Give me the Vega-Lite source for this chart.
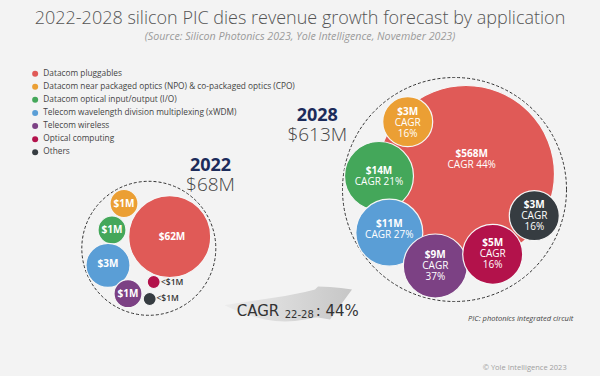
{
  "$schema": "https://vega.github.io/schema/vega-lite/v6.json",
  "width": 600,
  "height": 376,
  "padding": 0,
  "autosize": {"type": "none"},
  "background": "#f3f3f3",
  "config": {"view": {"stroke": null}, "font": "Open Sans"},
  "title": {
    "text": "2022-2028 silicon PIC dies revenue growth forecast by application",
    "subtitle": "(Source: Silicon Photonics 2023, Yole Intelligence, November 2023)",
    "anchor": "middle",
    "offset": -42,
    "font": "Open Sans",
    "fontSize": 18,
    "fontWeight": 300,
    "color": "#555555",
    "subtitleFont": "Open Sans",
    "subtitleFontSize": 10.7,
    "subtitleFontStyle": "italic",
    "subtitleColor": "#9a9a9a",
    "subtitlePadding": 4
  },
  "datasets": {
    "bubbles": [
      {"year": "2022", "category": "Datacom pluggables", "value": 62, "amount": "$62M", "cagr": null, "x": 169.7, "y": 236.7, "lx": 172, "ly": 236.5},
      {"year": "2022", "category": "Datacom near packaged optics (NPO) & co-packaged optics (CPO)", "value": 1, "amount": "$1M", "cagr": null, "x": 124, "y": 203.5, "lx": 124, "ly": 204},
      {"year": "2022", "category": "Datacom optical input/output  (I/O)", "value": 1, "amount": "$1M", "cagr": null, "x": 112, "y": 230, "lx": 112, "ly": 230},
      {"year": "2022", "category": "Telecom wavelength division multiplexing (xWDM)", "value": 3, "amount": "$3M", "cagr": null, "x": 108, "y": 265.3, "lx": 108, "ly": 263.5},
      {"year": "2022", "category": "Telecom wireless", "value": 1, "amount": "$1M", "cagr": null, "x": 128, "y": 293.7, "lx": 128, "ly": 293.5},
      {"year": "2022", "category": "Optical computing", "value": 0.3, "amount": "<$1M", "cagr": null, "x": 153.7, "y": 282, "lx": 161, "ly": 282.3},
      {"year": "2022", "category": "Others", "value": 0.3, "amount": "<$1M", "cagr": null, "x": 149.7, "y": 299, "lx": 156.5, "ly": 298.3},
      {"year": "2028", "category": "Datacom pluggables", "value": 568, "amount": "$568M", "cagr": "CAGR 44%", "x": 466, "y": 174, "lx": 471.7, "ly": 159},
      {"year": "2028", "category": "Datacom near packaged optics (NPO) & co-packaged optics (CPO)", "value": 3, "amount": "$3M", "cagr": "CAGR\n16%", "x": 407.7, "y": 121.7, "lx": 407.7, "ly": 122.5},
      {"year": "2028", "category": "Datacom optical input/output  (I/O)", "value": 14, "amount": "$14M", "cagr": "CAGR 21%", "x": 379, "y": 176, "lx": 379, "ly": 176.3},
      {"year": "2028", "category": "Telecom wavelength division multiplexing (xWDM)", "value": 11, "amount": "$11M", "cagr": "CAGR 27%", "x": 389.3, "y": 232.7, "lx": 389.3, "ly": 229.2},
      {"year": "2028", "category": "Telecom wireless", "value": 9, "amount": "$9M", "cagr": "CAGR\n37%", "x": 435.3, "y": 266, "lx": 435.3, "ly": 265.7},
      {"year": "2028", "category": "Optical computing", "value": 5, "amount": "$5M", "cagr": "CAGR\n16%", "x": 492.7, "y": 254.3, "lx": 492.7, "ly": 253.9},
      {"year": "2028", "category": "Others", "value": 3, "amount": "$3M", "cagr": "CAGR\n16%", "x": 534.3, "y": 215.7, "lx": 534.3, "ly": 215.8}
    ],
    "frames": [
      {"year": "2022", "x": 148.8, "y": 248.3},
      {"year": "2028", "x": 454.5, "y": 189.5}
    ],
    "heads": [
      {"year": "2022", "total": "$68M", "x": 210.5, "y": 166},
      {"year": "2028", "total": "$613M", "x": 317.3, "y": 116}
    ],
    "arrow": [
      {"x": 225, "top": 305, "bottom": 305.5},
      {"x": 235, "top": 303.5, "bottom": 310},
      {"x": 245, "top": 302, "bottom": 314},
      {"x": 255, "top": 300.5, "bottom": 317},
      {"x": 265, "top": 299, "bottom": 319.5},
      {"x": 275, "top": 297.5, "bottom": 321},
      {"x": 285, "top": 296, "bottom": 321.5},
      {"x": 295, "top": 294, "bottom": 321},
      {"x": 305, "top": 292, "bottom": 319.5},
      {"x": 315, "top": 289.5, "bottom": 317.5},
      {"x": 318, "top": 286.5, "bottom": 317.5},
      {"x": 330, "top": 287, "bottom": 319.5},
      {"x": 341, "top": 288, "bottom": 304.5},
      {"x": 352, "top": 289.5, "bottom": 289.5}
    ],
    "growth": [
      {"label": "CAGR", "period": "22-28", "rate": ": 44%", "x": 236.7, "y": 315.7}
    ],
    "notes": [
      {"kind": "definition", "text": "PIC: photonics integrated circuit", "x": 573.3, "y": 321},
      {"kind": "copyright", "text": "© Yole Intelligence 2023", "x": 566.7, "y": 370}
    ]
  },
  "layer": [
    {
      "data": {"name": "arrow"},
      "mark": {"type": "area", "interpolate": "linear", "color": {"gradient": "linear", "x1": 0, "y1": 0, "x2": 1, "y2": 0, "stops": [{"offset": 0, "color": "#ececec"}, {"offset": 1, "color": "#c6c6c6"}]}},
      "encoding": {
        "x": {"field": "x", "type": "quantitative", "scale": {"domain": [0, 600], "nice": false}, "axis": null},
        "y": {"field": "top", "type": "quantitative", "scale": {"domain": [0, 376], "nice": false, "reverse": true}, "axis": null},
        "y2": {"field": "bottom"}
      }
    },
    {
      "data": {"name": "frames"},
      "transform": [{"filter": "datum.year == '2022'"}],
      "mark": {"type": "point", "shape": "circle", "filled": false, "size": 17956, "stroke": "#333333", "strokeWidth": 1, "strokeDash": [3, 2], "opacity": 1},
      "encoding": {
        "x": {"field": "x", "type": "quantitative", "scale": {"domain": [0, 600], "nice": false}, "axis": null},
        "y": {"field": "y", "type": "quantitative", "scale": {"domain": [0, 376], "nice": false, "reverse": true}, "axis": null}
      }
    },
    {
      "data": {"name": "frames"},
      "transform": [{"filter": "datum.year == '2028'"}],
      "mark": {"type": "point", "shape": "circle", "filled": false, "size": 50176, "stroke": "#333333", "strokeWidth": 1, "strokeDash": [3, 2], "opacity": 1},
      "encoding": {
        "x": {"field": "x", "type": "quantitative", "scale": {"domain": [0, 600], "nice": false}, "axis": null},
        "y": {"field": "y", "type": "quantitative", "scale": {"domain": [0, 376], "nice": false, "reverse": true}, "axis": null}
      }
    },
    {
      "data": {"name": "bubbles"},
      "transform": [{"filter": "datum.year == '2022'"}],
      "mark": {"type": "circle", "opacity": 1, "stroke": "#f6f6f6", "strokeWidth": 1.2},
      "encoding": {
        "x": {"field": "x", "type": "quantitative", "scale": {"domain": [0, 600], "nice": false}, "axis": null},
        "y": {"field": "y", "type": "quantitative", "scale": {"domain": [0, 376], "nice": false, "reverse": true}, "axis": null},
        "color": {
          "field": "category", "type": "nominal",
          "scale": {
            "domain": ["Datacom pluggables", "Datacom near packaged optics (NPO) & co-packaged optics (CPO)", "Datacom optical input/output  (I/O)", "Telecom wavelength division multiplexing (xWDM)", "Telecom wireless", "Optical computing", "Others"],
            "range": ["#e05a57", "#eb9f34", "#44a75a", "#5a9ed6", "#7c4184", "#b3124b", "#363c41"]
          },
          "legend": {
            "title": null, "orient": "none", "legendX": 31, "legendY": 69.5,
            "symbolType": "circle", "symbolSize": 36, "symbolStrokeWidth": 0, "symbolOpacity": 1,
            "labelFont": "Open Sans", "labelFontSize": 8.3, "labelColor": "#444444", "labelLimit": 400,
            "labelOffset": 4, "rowPadding": 4.1, "padding": 0
          }
        },
        "size": {"field": "value", "type": "quantitative", "scale": {"type": "linear", "domain": [0.3, 1, 3, 62], "range": [169, 784, 1936, 6724], "zero": false, "nice": false}, "legend": null}
      }
    },
    {
      "data": {"name": "bubbles"},
      "transform": [{"filter": "datum.year == '2028'"}],
      "mark": {"type": "circle", "opacity": 1, "stroke": "#f6f6f6", "strokeWidth": 1.2},
      "encoding": {
        "x": {"field": "x", "type": "quantitative", "scale": {"domain": [0, 600], "nice": false}, "axis": null},
        "y": {"field": "y", "type": "quantitative", "scale": {"domain": [0, 376], "nice": false, "reverse": true}, "axis": null},
        "color": {"field": "category", "type": "nominal"},
        "size": {"field": "value", "type": "quantitative", "scale": {"type": "linear", "domain": [3, 5, 9, 11, 14, 568], "range": [2500, 3600, 4096, 4489, 4761, 31329], "zero": false, "nice": false}, "legend": null}
      }
    },
    {
      "data": {"name": "bubbles"},
      "transform": [{"filter": "datum.value >= 1"}],
      "mark": {"type": "text", "font": "Open Sans", "fontWeight": "bold", "fontSize": 10, "color": "#ffffff", "baseline": "middle", "align": "center",
        "dy": {"expr": "datum.cagr ? (indexof(datum.cagr, '\\n') >= 0 ? -11 : -5.5) : 0"}},
      "encoding": {
        "x": {"field": "lx", "type": "quantitative", "scale": {"domain": [0, 600], "nice": false}, "axis": null},
        "y": {"field": "ly", "type": "quantitative", "scale": {"domain": [0, 376], "nice": false, "reverse": true}, "axis": null},
        "text": {"field": "amount", "type": "nominal"}
      }
    },
    {
      "data": {"name": "bubbles"},
      "transform": [{"filter": "isValid(datum.cagr)"}],
      "mark": {"type": "text", "font": "Open Sans", "fontSize": 10, "color": "#ffffff", "baseline": "top", "align": "center", "lineBreak": "\n", "lineHeight": 11,
        "dy": {"expr": "indexof(datum.cagr, '\\n') >= 0 ? -5 : 0.5"}},
      "encoding": {
        "x": {"field": "lx", "type": "quantitative", "scale": {"domain": [0, 600], "nice": false}, "axis": null},
        "y": {"field": "ly", "type": "quantitative", "scale": {"domain": [0, 376], "nice": false, "reverse": true}, "axis": null},
        "text": {"field": "cagr", "type": "nominal"}
      }
    },
    {
      "data": {"name": "bubbles"},
      "transform": [{"filter": "datum.value < 1"}],
      "mark": {"type": "text", "font": "Open Sans", "fontWeight": 600, "fontSize": 8.5, "color": "#333333", "baseline": "middle", "align": "left"},
      "encoding": {
        "x": {"field": "lx", "type": "quantitative", "scale": {"domain": [0, 600], "nice": false}, "axis": null},
        "y": {"field": "ly", "type": "quantitative", "scale": {"domain": [0, 376], "nice": false, "reverse": true}, "axis": null},
        "text": {"field": "amount", "type": "nominal"}
      }
    },
    {
      "data": {"name": "heads"},
      "mark": {"type": "text", "font": "Open Sans", "fontWeight": "bold", "fontSize": 18, "color": "#1c2b5a", "baseline": "middle", "align": "center"},
      "encoding": {
        "x": {"field": "x", "type": "quantitative", "scale": {"domain": [0, 600], "nice": false}, "axis": null},
        "y": {"field": "y", "type": "quantitative", "scale": {"domain": [0, 376], "nice": false, "reverse": true}, "axis": null},
        "text": {"field": "year", "type": "nominal"}
      }
    },
    {
      "data": {"name": "heads"},
      "mark": {"type": "text", "font": "Open Sans", "fontWeight": 300, "fontSize": 19, "color": "#444444", "baseline": "middle", "align": "center", "dy": 19.3},
      "encoding": {
        "x": {"field": "x", "type": "quantitative", "scale": {"domain": [0, 600], "nice": false}, "axis": null},
        "y": {"field": "y", "type": "quantitative", "scale": {"domain": [0, 376], "nice": false, "reverse": true}, "axis": null},
        "text": {"field": "total", "type": "nominal"}
      }
    },
    {
      "data": {"name": "growth"},
      "mark": {"type": "text", "font": "DejaVu Sans", "fontSize": 15, "color": "#333333", "baseline": "alphabetic", "align": "left"},
      "encoding": {
        "x": {"field": "x", "type": "quantitative", "scale": {"domain": [0, 600], "nice": false}, "axis": null},
        "y": {"field": "y", "type": "quantitative", "scale": {"domain": [0, 376], "nice": false, "reverse": true}, "axis": null},
        "text": {"field": "label", "type": "nominal"}
      }
    },
    {
      "data": {"name": "growth"},
      "mark": {"type": "text", "font": "DejaVu Sans", "fontSize": 10, "color": "#333333", "baseline": "alphabetic", "align": "left", "dx": 48, "dy": 2.6},
      "encoding": {
        "x": {"field": "x", "type": "quantitative", "scale": {"domain": [0, 600], "nice": false}, "axis": null},
        "y": {"field": "y", "type": "quantitative", "scale": {"domain": [0, 376], "nice": false, "reverse": true}, "axis": null},
        "text": {"field": "period", "type": "nominal"}
      }
    },
    {
      "data": {"name": "growth"},
      "mark": {"type": "text", "font": "DejaVu Sans", "fontSize": 15, "color": "#333333", "baseline": "alphabetic", "align": "left", "dx": 79},
      "encoding": {
        "x": {"field": "x", "type": "quantitative", "scale": {"domain": [0, 600], "nice": false}, "axis": null},
        "y": {"field": "y", "type": "quantitative", "scale": {"domain": [0, 376], "nice": false, "reverse": true}, "axis": null},
        "text": {"field": "rate", "type": "nominal"}
      }
    },
    {
      "data": {"name": "notes"},
      "transform": [{"filter": "datum.kind == 'definition'"}],
      "mark": {"type": "text", "font": "Open Sans", "fontSize": 7.5, "fontStyle": "italic", "color": "#444444", "baseline": "alphabetic", "align": "right"},
      "encoding": {
        "x": {"field": "x", "type": "quantitative", "scale": {"domain": [0, 600], "nice": false}, "axis": null},
        "y": {"field": "y", "type": "quantitative", "scale": {"domain": [0, 376], "nice": false, "reverse": true}, "axis": null},
        "text": {"field": "text", "type": "nominal"}
      }
    },
    {
      "data": {"name": "notes"},
      "transform": [{"filter": "datum.kind == 'copyright'"}],
      "mark": {"type": "text", "font": "Open Sans", "fontSize": 7.5, "color": "#a0a0a0", "baseline": "alphabetic", "align": "right"},
      "encoding": {
        "x": {"field": "x", "type": "quantitative", "scale": {"domain": [0, 600], "nice": false}, "axis": null},
        "y": {"field": "y", "type": "quantitative", "scale": {"domain": [0, 376], "nice": false, "reverse": true}, "axis": null},
        "text": {"field": "text", "type": "nominal"}
      }
    }
  ],
  "resolve": {"scale": {"size": "independent"}}
}
